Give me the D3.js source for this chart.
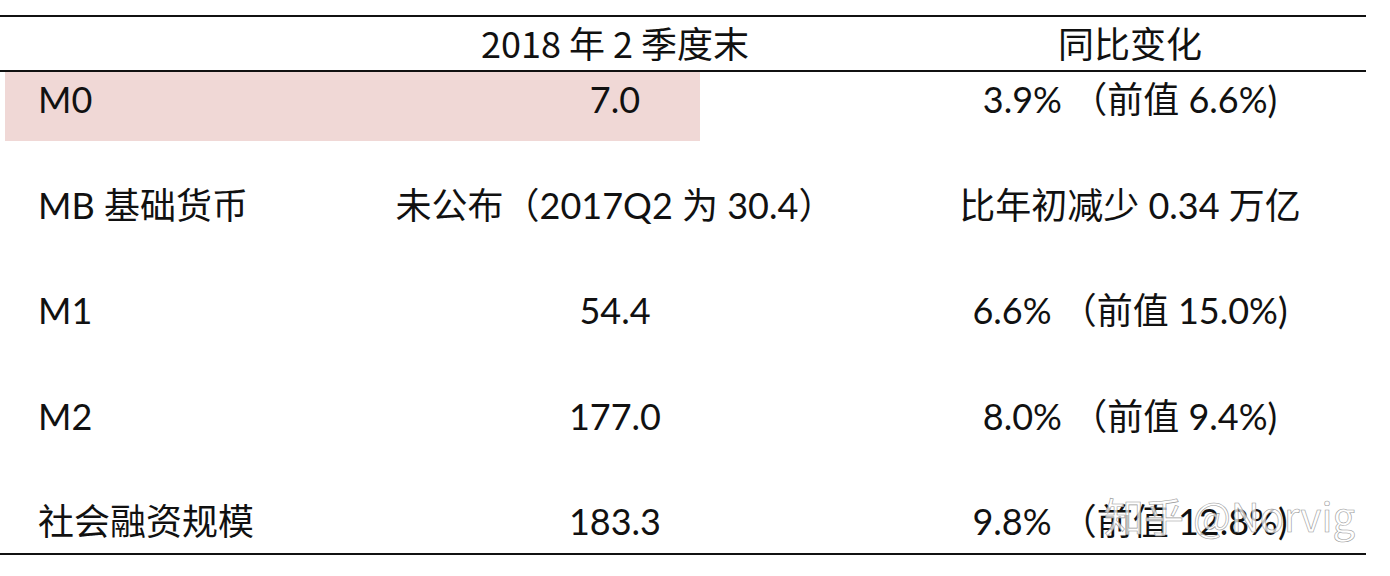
<!DOCTYPE html>
<html><head><meta charset="utf-8">
<script src="https://cdn.jsdelivr.net/npm/d3@7"></script>
<style>body{margin:0;background:#fff}</style>
</head><body><div id="chart"></div>
<script>
// table of money supply figures, Q2 2018
const headers = ['', '2018 年 2 季度末', '同比变化'];
const names = ['M0', 'MB 基础货币', 'M1', 'M2', '社会融资规模'];
const levels = ['7.0', '未公布（2017Q2 为 30.4）', '54.4', '177.0', '183.3'];
const changes = ['3.9% （前值 6.6%)', '比年初减少 0.34 万亿', '6.6% （前值 15.0%)', '8.0% （前值 9.4%)', '9.8% （前值 12.8%)'];
const highlighted = ['M0'];

const W = 1390, H = 576;
const svg = d3.select('#chart').append('svg').attr('width', W).attr('height', H);
const font = 'Lato, "Noto Sans CJK SC", sans-serif';

const y = d3.scaleBand().domain(names).range([72, 574]).paddingInner(0);
const step = 105.5;
const rowY = d => 99 + names.indexOf(d) * step;

// highlight
svg.selectAll('rect.hl').data(highlighted).enter().append('rect')
    .attr('x', 5).attr('y', 72).attr('width', 695).attr('height', 69)
    .attr('fill', '#f0d8d6');

// rules
[[16, 2], [71, 2], [554, 2]].forEach(([yy, w]) => {
    svg.append('line').attr('x1', 0).attr('x2', 1366).attr('y1', yy).attr('y2', yy)
        .attr('stroke', '#111').attr('stroke-width', w);
});

svg.selectAll('text.h').data(headers).enter().append('text')
    .attr('x', (d, i) => [38, 615, 1130][i]).attr('y', 42)
    .attr('text-anchor', 'middle').attr('dominant-baseline', 'central')
    .attr('font-family', '"Noto Sans CJK SC", sans-serif').attr('font-size', 36).attr('fill', '#111')
    .text(d => d);

svg.selectAll('text.n').data(names).enter().append('text')
    .attr('x', 38).attr('y', d => rowY(d))
    .attr('dominant-baseline', 'central')
    .attr('font-family', font).attr('font-size', 36).attr('fill', '#111')
    .text(d => d);

svg.selectAll('text.l').data(levels).enter().append('text')
    .attr('x', 615).attr('y', (d, i) => rowY(names[i]))
    .attr('text-anchor', 'middle').attr('dominant-baseline', 'central')
    .attr('font-family', font).attr('font-size', 36).attr('fill', '#111')
    .text(d => d);

svg.selectAll('text.c').data(changes).enter().append('text')
    .attr('x', 1130).attr('y', (d, i) => rowY(names[i]))
    .attr('text-anchor', 'middle').attr('dominant-baseline', 'central')
    .attr('font-family', font).attr('font-size', 36).attr('fill', '#111')
    .text(d => d);

// watermark
svg.append('text').attr('x', 1355).attr('y', 515).attr('text-anchor', 'end')
    .attr('dominant-baseline', 'central')
    .attr('font-family', '"Noto Sans CJK SC", sans-serif').attr('font-size', 40)
    .attr('fill', '#fff').attr('fill-opacity', 0.75).attr('stroke', '#999').attr('stroke-width', 0.6)
    .text('知乎 @Norvig');
</script>
</body></html>
